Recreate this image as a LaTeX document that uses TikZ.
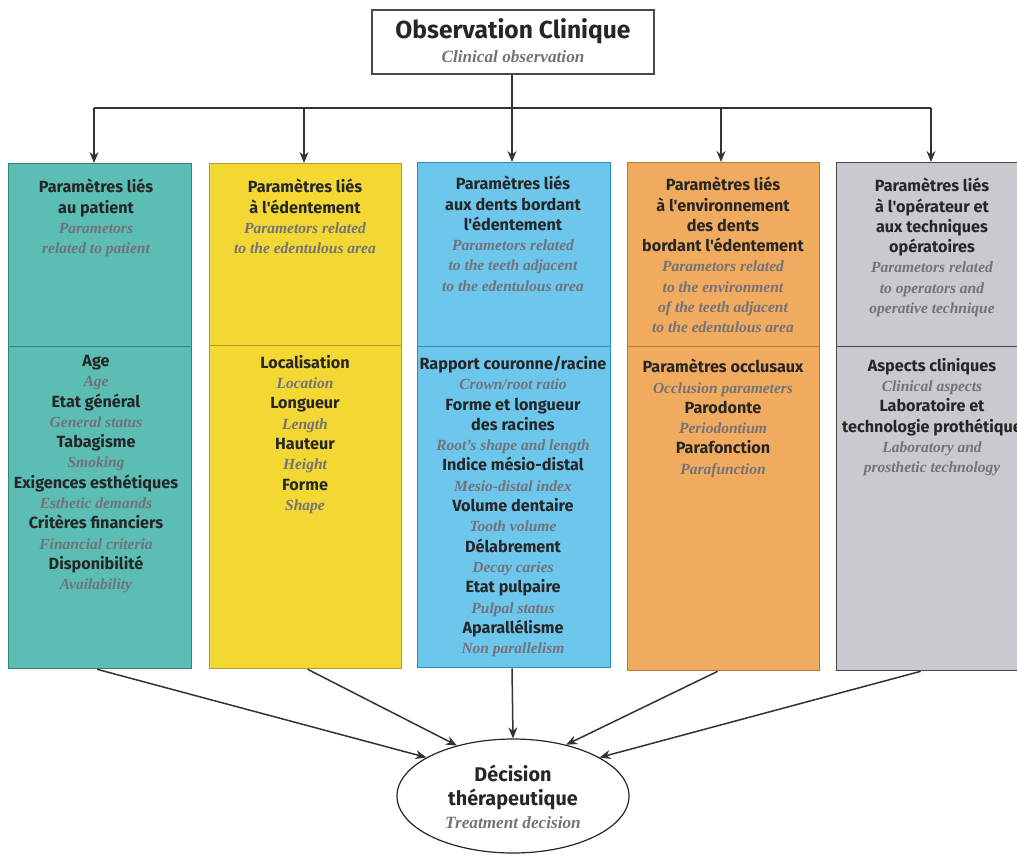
\documentclass[tikz,border=0pt]{standalone}
\usepackage{fontspec}
\setmainfont{Liberation Serif}
\newfontfamily\fira{Fira Sans}
\usetikzlibrary{arrows.meta,shapes.geometric,calc}
\definecolor{tealF}{HTML}{5BBDB4}\definecolor{tealD}{HTML}{2E8B6B}
\definecolor{yelF}{HTML}{F3D733}\definecolor{yelD}{HTML}{B59A2A}
\definecolor{bluF}{HTML}{6DC6EC}\definecolor{bluD}{HTML}{2A8DBE}
\definecolor{oraF}{HTML}{F1AB5F}\definecolor{oraD}{HTML}{B9773A}
\definecolor{graF}{HTML}{C8CACF}\definecolor{graD}{HTML}{4A4A4A}
\definecolor{ink}{HTML}{262626}
\definecolor{engray}{HTML}{727278}
\definecolor{wire}{HTML}{333333}
\newcommand\fr[1]{{\fira\bfseries\fontsize{16.2}{20.3}\selectfont\color{ink}#1}}
\newcommand\en[1]{{\bfseries\itshape\fontsize{15.5}{20.3}\selectfont\color{engray}#1}}
\tikzset{
  colbox/.style 2 args={draw=#2, fill=#1, line width=1.3pt, inner sep=0pt, anchor=north west},
  coltext/.style={anchor=north, inner sep=0pt, align=center, font=\fontsize{16}{20.3}\selectfont},
  wireline/.style={draw=wire, line width=1.5pt},
  arr/.style={wireline, -{Stealth[length=11pt,width=9pt]}},
}
\begin{document}
\begin{tikzpicture}[x=1pt,y=-1pt]
\useasboundingbox (0,0) rectangle (1017,855);
% top box
\node[draw=graD, line width=1.2pt, minimum width=282pt, minimum height=64pt, inner sep=0pt, fill=white] (obs) at (513,42) {};
\node[inner sep=0pt, align=center, font=\fontsize{24.6}{26}\selectfont] (obsT) at (513,41)
  {{\fira\bfseries\color{ink}Observation Clinique}\\[-2pt]{\bfseries\itshape\fontsize{17.2}{18}\selectfont\color{engray}Clinical observation}};
% column boxes, upper parts
\node[colbox={tealF}{tealD}, minimum width=183pt, minimum height=183pt] (c1u) at (8,163) {};
\node[colbox={yelF}{yelD}, minimum width=192pt, minimum height=182pt] (c2u) at (209,163) {};
\node[colbox={bluF}{bluD}, minimum width=193pt, minimum height=184pt] (c3u) at (417,162) {};
\node[colbox={oraF}{oraD}, minimum width=192pt, minimum height=184pt] (c4u) at (627,162) {};
\node[colbox={graF}{graD}, minimum width=192pt, minimum height=184pt] (c5u) at (836,162) {};
% lower parts
\node[colbox={tealF}{tealD}, minimum width=183pt, minimum height=322pt] (c1l) at (8,346) {};
\node[colbox={yelF}{yelD}, minimum width=192pt, minimum height=323pt] (c2l) at (209,345) {};
\node[colbox={bluF}{bluD}, minimum width=193pt, minimum height=321pt] (c3l) at (417,346) {};
\node[colbox={oraF}{oraD}, minimum width=192pt, minimum height=324pt] (c4l) at (627,346) {};
\node[colbox={graF}{graD}, minimum width=192pt, minimum height=324pt] (c5l) at (836,346) {};
% upper texts
\node[coltext] (t1u) at (96,179) {\fr{Paramètres liés}\\\fr{au patient}\\\en{Parametors}\\\en{related to patient}};
\node[coltext] (t2u) at (305,179) {\fr{Paramètres liés}\\\fr{à l'édentement}\\\en{Parametors related}\\\en{to the edentulous area}};
\node[coltext] (t3u) at (513,176) {\fr{Paramètres liés}\\\fr{aux dents bordant}\\\fr{l'édentement}\\\en{Parametors related}\\\en{to the teeth adjacent}\\\en{to the edentulous area}};
\node[coltext] (t4u) at (723,177) {\fr{Paramètres liés}\\\fr{à l'environnement}\\\fr{des dents}\\\fr{bordant l'édentement}\\\en{Parametors related}\\\en{to the environment}\\\en{of the teeth adjacent}\\\en{to the edentulous area}};
\node[coltext] (t5u) at (932,178) {\fr{Paramètres liés}\\\fr{à l'opérateur et}\\\fr{aux techniques}\\\fr{opératoires}\\\en{Parametors related}\\\en{to operators and}\\\en{operative technique}};
% lower texts
\node[coltext] (t1l) at (96,355) {\fr{Age}\\\en{Age}\\\fr{Etat général}\\\en{General status}\\\fr{Tabagisme}\\\en{Smoking}\\\fr{Exigences esthétiques}\\\en{Esthetic demands}\\\fr{Critères financiers}\\\en{Financial criteria}\\\fr{Disponibilité}\\\en{Availability}};
\node[coltext] (t2l) at (305,355) {\fr{Localisation}\\\en{Location}\\\fr{Longueur}\\\en{Length}\\\fr{Hauteur}\\\en{Height}\\\fr{Forme}\\\en{Shape}};
\node[coltext] (t3l) at (513,356) {\fr{Rapport couronne/racine}\\\en{Crown/root ratio}\\\fr{Forme et longueur}\\\fr{des racines}\\\en{Root's shape and length}\\\fr{Indice mésio-distal}\\\en{Mesio-distal index}\\\fr{Volume dentaire}\\\en{Tooth volume}\\\fr{Délabrement}\\\en{Decay caries}\\\fr{Etat pulpaire}\\\en{Pulpal status}\\\fr{Aparallélisme}\\\en{Non parallelism}};
\node[coltext] (t4l) at (723,359) {\fr{Paramètres occlusaux}\\\en{Occlusion parameters}\\\fr{Parodonte}\\\en{Periodontium}\\\fr{Parafonction}\\\en{Parafunction}};
\node[coltext] (t5l) at (932,358) {\fr{Aspects cliniques}\\\en{Clinical aspects}\\\fr{Laboratoire et}\\\fr{technologie prothétique}\\\en{Laboratory and}\\\en{prosthetic technology}};
% decision ellipse
\node[ellipse, draw=ink, line width=1.2pt, fill=white, minimum width=232pt, minimum height=114pt, inner sep=0pt] (dec) at (513,796) {};
\node[inner sep=0pt, align=center, font=\fontsize{19.8}{23.5}\selectfont] (decT) at (513,797)
  {{\fira\bfseries\color{ink}Décision}\\{\fira\bfseries\color{ink}thérapeutique}\\{\bfseries\itshape\fontsize{17.2}{23.5}\selectfont\color{engray}Treatment decision}};
% distribution connectors
\coordinate (hm) at (512,108);
\coordinate (h1) at (94,108);
\coordinate (h2) at (304,108);
\coordinate (h4) at (721,108);
\coordinate (h5) at (931,108);
\draw[wireline] (obs.south -| hm) -- (hm);
\draw[wireline] (h1) -- (h5);
\draw[arr] (h1) -- (h1 |- c1u.north);
\draw[arr] (h2) -- (h2 |- c2u.north);
\draw[arr] (hm) -- (hm |- c3u.north);
\draw[arr] (h4) -- (h4 |- c4u.north);
\draw[arr] (h5) -- (h5 |- c5u.north);
% converging connectors
\draw[arr] ($(c1l.south)+(-3,0)$) -- (dec.156);
\draw[arr] ($(c2l.south)+(2,0)$) -- (dec.138);
\draw[arr] (hm |- c3l.south) -- (dec.north);
\draw[arr] ($(c4l.south)+(-6,0)$) -- (dec.44);
\draw[arr] ($(c5l.south)+(-12,0)$) -- (dec.24);
\end{tikzpicture}
\end{document}
